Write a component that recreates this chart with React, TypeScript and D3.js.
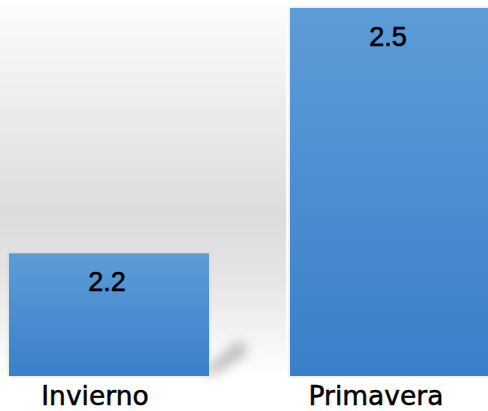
import React from 'react';
import * as d3 from 'd3';

const categories = ['Invierno', 'Primavera'];
const values = [2.2, 2.5];
const valueLabels = ['2.2', '2.5'];

const width = 488;
const height = 411;
const baseY = 376;
const topY = 8;
const valueFont = '"Liberation Sans", Arial, sans-serif';
const labelFont = '"DejaVu Sans", Verdana, sans-serif';

export default function App() {
  const x = d3.scaleBand<string>()
    .domain(categories)
    .range([9, 490])
    .paddingInner(81 / 281)
    .paddingOuter(0);

  // axis does not start at zero in the original
  const y = d3.scaleLinear().domain([2.05, 2.5]).range([baseY, topY]);

  const firstRight = (x(categories[0]) || 0) + x.bandwidth();
  const secondLeft = x(categories[1]) || 0;

  return (
    <svg
      width={width}
      height={height}
      style={{ position: 'absolute', left: 0, top: 0, display: 'block' }}
    >
      <defs>
        <linearGradient id="bg" x1="0" y1="0" x2="0" y2="1">
          <stop offset="0%" stopColor="#ffffff" />
          <stop offset="8%" stopColor="#f8f8f8" />
          <stop offset="58%" stopColor="#dcdcdc" />
          <stop offset="75%" stopColor="#e6e6e6" />
          <stop offset="100%" stopColor="#ffffff" />
        </linearGradient>
        <linearGradient id="barFill" x1="0" y1="0" x2="0" y2="1">
          <stop offset="0%" stopColor="#5c9cd7" />
          <stop offset="100%" stopColor="#3a7fc9" />
        </linearGradient>
        <filter id="blur" x="-50%" y="-50%" width="200%" height="200%">
          <feGaussianBlur stdDeviation="6" />
        </filter>
        <filter id="edge" x="-20%" y="-20%" width="140%" height="140%">
          <feGaussianBlur stdDeviation="1.5" />
        </filter>
      </defs>

      <rect x={0} y={0} width={width} height={height} fill="#ffffff" />
      <rect x={0} y={0} width={secondLeft - 4} height={baseY} fill="url(#bg)" />

      {/* perspective shadow behind the short bar */}
      <path
        d={`M${firstRight - 6},${baseY - 4} L${firstRight + 30},${baseY - 36} L${firstRight + 40},${baseY - 24} L${firstRight + 4},${baseY} Z`}
        fill="#808080"
        opacity={0.5}
        filter="url(#blur)"
      />

      {categories.map((c, i) => {
        const bx = x(c) || 0;
        const by = y(values[i]);
        const cx = bx + x.bandwidth() / 2;
        return (
          <g key={c}>
            <rect
              x={bx - 1}
              y={by - 1}
              width={x.bandwidth() + 2}
              height={baseY - by + 2}
              fill="#c8c8c8"
              opacity={0.5}
              filter="url(#edge)"
            />
            <rect
              x={bx}
              y={by}
              width={x.bandwidth()}
              height={baseY - by}
              fill="url(#barFill)"
            />
            <text
              x={cx - 2}
              y={by + 38}
              textAnchor="middle"
              fontFamily={valueFont}
              fontSize={27}
              fill="#000000"
              stroke="#000000"
              strokeWidth={0.6}
            >
              {valueLabels[i]}
            </text>
            <text
              x={cx - 14}
              y={405}
              textAnchor="middle"
              fontFamily={labelFont}
              fontSize={26.5}
              fill="#000000"
              stroke="#000000"
              strokeWidth={0.5}
            >
              {c}
            </text>
          </g>
        );
      })}
    </svg>
  );
}
